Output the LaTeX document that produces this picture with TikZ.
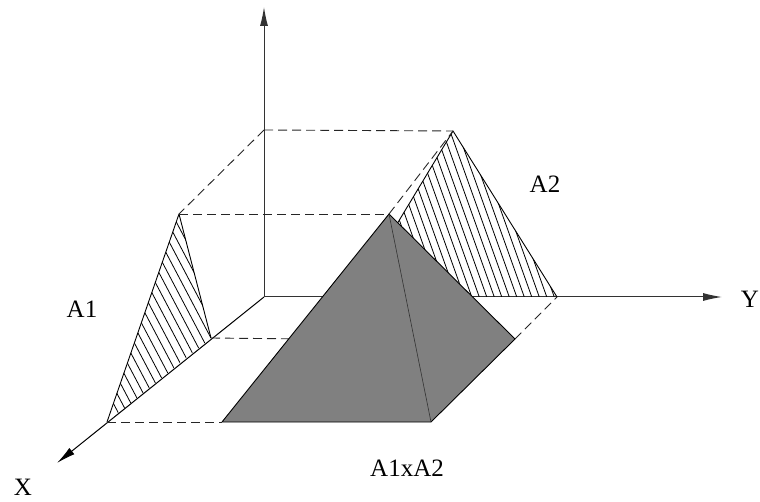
\documentclass[tikz,border=0pt]{standalone}
\usepackage{fontspec}
\setmainfont{Liberation Serif}
\usetikzlibrary{arrows.meta}

\begin{document}
\begin{tikzpicture}[
    x=1pt, y=-1pt,
    axis/.style={-{Latex[length=19pt, width=8pt]}, line width=1pt, black!80},
    edge/.style={line width=0.9pt, black, line join=round},
    hidden/.style={dash pattern=on 9pt off 5pt, line width=0.9pt, black!85},
    hatch/.style={line width=0.8pt, black},
    lbl/.style={font=\fontsize{25}{29}\selectfont, inner sep=0pt, anchor=base}
]
    \useasboundingbox (0,0) rectangle (760,502);

    % axes
    \coordinate (O) at (264,297);
    \coordinate (zt) at (264,7);
    \coordinate (yt) at (722,297);
    \coordinate (xt) at (57,463);
    \coordinate (vt) at (264,130);

    % A1, A2 and the pyramid
    \coordinate (a1l) at (107,422);
    \coordinate (a1r) at (211,338);
    \coordinate (a1t) at (179,214);
    \coordinate (a2l) at (353,297);
    \coordinate (a2r) at (557,297);
    \coordinate (a2t) at (453,131);
    \coordinate (pa) at (389,214);
    \coordinate (pfl) at (222,422);
    \coordinate (pfr) at (431,422);
    \coordinate (pbr) at (515,339);
    \coordinate (pbl) at (306,339);

    \draw[axis] (O) -- (zt);
    \draw[axis] (O) -- (yt);
    \draw[axis, black] (O) -- (xt);

    \begin{scope}
        \clip (a1l) -- (a1r) -- (a1t) -- cycle;
        \foreach \c in {0,8.8,...,260}
            \draw[hatch] (\c-20,150) -- ++(140,266);
    \end{scope}
    \draw[edge] (a1l) -- (a1t) -- (a1r);

    \begin{scope}
        \clip (a2l) -- (a2r) -- (a2t) -- cycle;
        \foreach \c in {240,247.5,...,600}
            \draw[hatch] (\c,110) -- ++(70,196);
    \end{scope}
    \draw[edge] (a2l) -- (a2t) -- (a2r);

    \draw[hidden] (vt) -- (a2t);
    \draw[hidden] (vt) -- (a1t);
    \draw[hidden] (a1t) -- (pa);
    \draw[hidden] (pa) -- (a2t);
    \draw[hidden] (a1l) -- (pfl);
    \draw[hidden] (a1r) -- (pbl);
    \draw[hidden] (pbr) -- (a2r);

    \fill[black!50] (pfl) -- (pfr) -- (pbr) -- (pa) -- cycle;
    \draw[edge] (pfl) -- (pfr) -- (pbr) -- (pa) -- cycle;
    \draw[line width=0.6pt, black!80] (pa) -- (pfr);

    \node[lbl] (labA1) at (82,318) {A1};
    \node[lbl] (labA2) at (545,193) {A2};
    \node[lbl] (labA12) at (407,476) {A1xA2};
    \node[lbl] (labX) at (23,495) {X};
    \node[lbl, anchor=base east] (labY) at (759,308) {Y};
\end{tikzpicture}
\end{document}
